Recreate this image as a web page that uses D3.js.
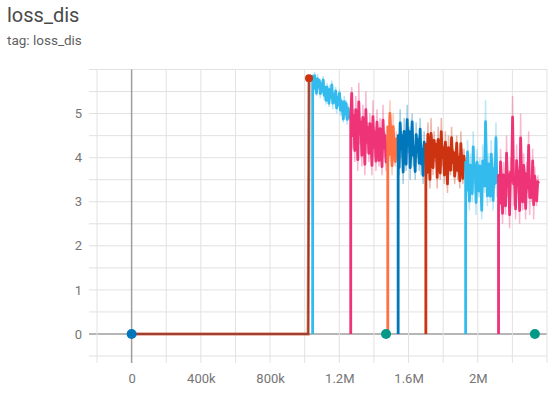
<!DOCTYPE html>
<html>
<head>
<meta charset="utf-8">
<script src="https://cdn.jsdelivr.net/npm/d3@7"></script>
<style>
  body { margin: 0; background: #fff; }
  .chart text { font-family: Roboto, "Noto Sans", sans-serif; }
</style>
</head>
<body>
<div class="chart"></div>
<script>
// tensorboard palette
const palette = ['#ff7043', '#0077bb', '#cc3311', '#33bbee', '#ee3377', '#009988', '#bbbbbb']

const xTicks = [0, 400000, 800000, 1200000, 1600000, 2000000]
const yTicks = [0, 1, 2, 3, 4, 5]

// first run: sits at 0, then jumps up
const firstSteps = [0, 1020000, 1025000]
const firstValues = [0, 0, 5.8]

// single point runs (dots)
const dotSteps = [0, 1470000, 2330000]
const dotValues = [0, 0, 0]
const dotColors = [palette[1], palette[5], palette[5]]

// resumed runs: each logs 0 at its start, then the raw loss values
const runColors = [palette[3], palette[4], palette[0], palette[1], palette[2], palette[3], palette[4]]
const runStarts = [1046000, 1266000, 1480000, 1540000, 1700000, 1930000, 2120000]
const runEnds = [1262000, 1476000, 1536000, 1696000, 1926000, 2116000, 2352000]

const raw0 = [5.85, 5.5, 5.95, 5.6, 5.4, 5.9, 5.55, 5.8, 5.35, 5.75, 5.45, 5.85, 5.3, 5.65, 5.2, 5.7,
  5.45, 5.15, 5.65, 5.3, 5.75, 5.1, 5.5, 5.2, 5.6, 5.0, 5.45, 5.15, 5.55, 4.95, 5.35, 5.05,
  4.8, 5.4, 4.9, 5.3, 4.75, 5.2, 4.85, 5.1]
const raw1 = [4.9, 5.6, 4.2, 5.1, 3.9, 5.4, 4.6, 3.7, 5.7, 4.3, 4.9, 3.8, 5.2, 4.5, 3.6, 5.5,
  4.1, 4.8, 3.9, 5.0, 4.4, 3.6, 5.3, 4.0, 4.7, 3.7, 5.1, 4.2, 3.8, 4.9, 4.3, 3.6,
  5.2, 4.0, 4.6, 3.7, 4.5]
const raw2 = [4.7, 3.9, 5.3, 4.3, 3.6, 5.0, 4.1, 3.8, 4.6, 4.2]
const raw3 = [4.5, 3.6, 5.1, 4.0, 4.6, 3.4, 4.9, 4.2, 3.7, 5.2, 4.1, 4.7, 3.5, 4.4, 5.0, 3.8,
  4.3, 3.5, 4.8, 4.0, 4.5, 3.7, 4.9, 3.6, 4.3, 3.4, 4.6, 4.0]
const raw4 = [4.3, 3.5, 4.8, 4.0, 3.3, 4.9, 4.2, 3.6, 4.6, 3.9, 4.4, 3.3, 4.7, 4.0, 3.5, 4.9,
  3.8, 4.3, 3.4, 4.6, 3.9, 3.2, 4.5, 4.0, 3.6, 4.7, 3.7, 4.2, 3.4, 3.9, 4.5, 3.5,
  4.1, 3.3, 4.6, 3.8, 3.4, 4.2, 3.7]
const raw5 = [3.9, 3.1, 4.4, 3.5, 2.8, 4.1, 3.7, 3.0, 4.6, 3.4, 3.9, 2.7, 4.2, 3.6, 3.1, 4.0,
  3.3, 2.6, 4.3, 3.8, 3.2, 5.3, 3.5, 2.9, 4.1, 3.4, 3.0, 4.4, 3.6, 2.8, 4.0, 3.3,
  4.8, 3.1, 3.6]
const raw6 = [3.6, 2.8, 4.2, 3.3, 2.5, 3.9, 3.5, 2.7, 4.5, 3.1, 3.7, 2.4, 4.0, 3.4, 5.4, 2.9,
  3.6, 2.6, 4.3, 3.2, 3.8, 2.5, 5.0, 3.3, 2.8, 4.1, 3.5, 2.6, 3.9, 3.2, 4.6, 2.7,
  3.5, 3.0, 4.2, 2.6, 3.8, 3.3, 2.9, 3.6, 3.4]
const runRaw = [raw0, raw1, raw2, raw3, raw4, raw5, raw6]

const smoothing = 0.25

const width = 552
const height = 397

const svg = d3.select('.chart')
  .append('svg')
  .attr('width', width)
  .attr('height', height)

const x = d3.scaleLinear()
  .domain([-200000, 2400000])
  .range([97, 547])

const y = d3.scaleLinear()
  .domain([-0.5, 6])
  .range([356, 69.5])

// title
svg.append('text')
  .attr('x', 7).attr('y', 22)
  .attr('font-size', 20)
  .attr('fill', '#4a4a4a')
  .text('loss_dis')

svg.append('text')
  .attr('x', 7).attr('y', 45)
  .attr('font-size', 13.5)
  .attr('fill', '#5f5f5f')
  .text('tag: loss_dis')

// grid
const grid = svg.append('g')

grid.selectAll('.hgrid')
  .data(d3.range(-0.5, 6.01, 0.5))
  .enter().append('line')
  .attr('x1', 89).attr('x2', 547)
  .attr('y1', d => y(d)).attr('y2', d => y(d))
  .attr('stroke', d => d === 0 ? '#9e9e9e' : '#e2e2e2')
  .attr('stroke-width', d => d === 0 ? 1.5 : 1)

grid.selectAll('.vgrid')
  .data(d3.range(-200000, 2400001, 200000))
  .enter().append('line')
  .attr('x1', d => x(d)).attr('x2', d => x(d))
  .attr('y1', 69.5).attr('y2', 363)
  .attr('stroke', d => d === 0 ? '#9e9e9e' : '#e2e2e2')
  .attr('stroke-width', d => d === 0 ? 1.5 : 1)

// axes labels
const yAxis = svg.append('g')
  .attr('transform', 'translate(89,0)')
  .call(d3.axisLeft(y).tickValues(yTicks).tickFormat(d3.format('d')).tickSize(0).tickPadding(7))
const xAxis = svg.append('g')
  .attr('transform', 'translate(0,363)')
  .call(d3.axisBottom(x).tickValues(xTicks).tickFormat(d3.format('~s')).tickSize(0).tickPadding(11))

;[yAxis, xAxis].forEach(a => {
  a.select('.domain').remove()
  a.selectAll('text')
    .attr('font-size', 13)
    .attr('fill', '#757575')
    .style('font-family', 'Roboto, sans-serif')
})

const line = d3.line()
  .x(d => x(d.step))
  .y(d => y(d.value))

// ema smoothing like tensorboard (debiased)
const smooth = vals => {
  let last = 0
  return vals.map((v, i) => {
    last = last * smoothing + (1 - smoothing) * v
    return last / (1 - Math.pow(smoothing, i + 1))
  })
}

const plot = svg.append('g')

// first run
const firstData = firstSteps.map((s, i) => ({ step: s, value: firstValues[i] }))
plot.append('path')
  .datum(firstData)
  .attr('d', line)
  .attr('fill', 'none')
  .attr('stroke', palette[2])
  .attr('stroke-width', 3)
  .attr('stroke-opacity', 0.7)
plot.append('path')
  .datum(firstData)
  .attr('d', line)
  .attr('fill', 'none')
  .attr('stroke', '#8d3b2b')
  .attr('stroke-width', 1.4)

const runs = runRaw.map((vals, r) => {
  const n = vals.length
  const steps = vals.map((v, i) => runStarts[r] + (runEnds[r] - runStarts[r]) * i / (n - 1))
  const sm = smooth(vals)
  const zero = { step: runStarts[r], value: 0 }
  return {
    color: runColors[r],
    raw: [zero].concat(vals.map((v, i) => ({ step: steps[i], value: v }))),
    smooth: [zero].concat(sm.map((v, i) => ({ step: steps[i], value: v })))
  }
})

// raw lines first, faint
plot.selectAll('.raw')
  .data(runs)
  .enter().append('path')
  .attr('class', 'raw')
  .attr('d', d => line(d.raw))
  .attr('fill', 'none')
  .attr('stroke', d => d.color)
  .attr('stroke-opacity', 0.35)
  .attr('stroke-width', 1.5)

plot.selectAll('.smooth')
  .data(runs)
  .enter().append('path')
  .attr('class', 'smooth')
  .attr('d', d => line(d.smooth))
  .attr('fill', 'none')
  .attr('stroke', d => d.color)
  .attr('stroke-width', 2.8)
  .attr('stroke-linejoin', 'round')

// dots
plot.append('circle')
  .attr('cx', x(firstSteps[2]))
  .attr('cy', y(firstValues[2]))
  .attr('r', 4)
  .attr('fill', palette[2])

plot.selectAll('.dot')
  .data(dotSteps)
  .enter().append('circle')
  .attr('class', 'dot')
  .attr('cx', d => x(d))
  .attr('cy', (d, i) => y(dotValues[i]))
  .attr('r', 5)
  .attr('fill', (d, i) => dotColors[i])
</script>
</body>
</html>
